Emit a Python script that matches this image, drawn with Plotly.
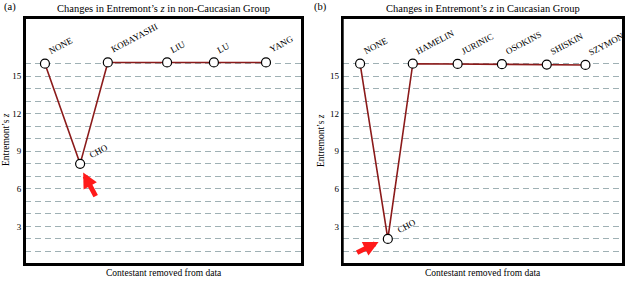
import plotly.graph_objects as go

# ---- data ----
names_a = ["NONE", "CHO", "KOBAYASHI", "LIU", "LU", "YANG"]
pos_a = [7.2, 19.9, 29.9, 51.3, 68.2, 87.0]
z_a = [16.0, 8.0, 16.1, 16.1, 16.1, 16.1]

names_b = ["NONE", "CHO", "HAMELIN", "JURINIC", "OSOKINS", "SHISKIN", "SZYMON"]
pos_b = [6.2, 16.1, 25.0, 41.0, 56.8, 72.8, 86.6]
z_b = [16.0, 2.0, 16.0, 15.98, 15.96, 15.93, 15.9]

grid_vals = list(range(1, 17))
tick_labels = [str(v) if v % 3 == 0 else "" for v in grid_vals]

title_a = "Changes in Entremont\u2019s <i>z</i> in non-Caucasian Group"
title_b = "Changes in Entremont\u2019s <i>z</i> in Caucasian Group"
xlab = "Contestant removed from data"
ylab = "Entremont\u2019s <i>z</i>"

FONT = "Liberation Serif, Times New Roman, serif"
LINE = "#8b1a1a"
GRID = "#9fb0b4"

W, H = 625, 294
dom_a = [25 / W, 302 / W]
dom_b = [342.7 / W, 623 / W]
ydom = [(H - 264) / H, (H - 18) / H]

fig = go.Figure()
for names, xs, zs, xa, ya in [(names_a, pos_a, z_a, "x", "y"), (names_b, pos_b, z_b, "x2", "y2")]:
    fig.add_trace(go.Scatter(
        x=xs, y=zs, mode="lines+markers", xaxis=xa, yaxis=ya,
        line=dict(color=LINE, width=1.6),
        marker=dict(symbol="circle", size=9, color="white", line=dict(color="black", width=1.2)),
        hoverinfo="skip", showlegend=False, cliponaxis=False))

axis_common = dict(showline=True, mirror=True, linecolor="black", linewidth=2,
                   zeroline=False, ticks="", automargin=False)
fig.update_layout(
    width=W, height=H, margin=dict(l=0, r=0, t=0, b=0, pad=0, autoexpand=False),
    paper_bgcolor="white", plot_bgcolor="white",
    font=dict(family=FONT, color="black", size=9),
    xaxis=dict(domain=dom_a, range=[0, 100], showgrid=False, showticklabels=False, anchor="y", **axis_common),
    xaxis2=dict(domain=dom_b, range=[0, 100], showgrid=False, showticklabels=False, anchor="y2", **axis_common),
    yaxis=dict(domain=ydom, range=[0, 19.65], tickvals=grid_vals, ticktext=tick_labels,
               showgrid=True, gridcolor=GRID, griddash="6px,4px", gridwidth=1, anchor="x",
               tickfont=dict(size=9), **axis_common),
    yaxis2=dict(domain=ydom, range=[0, 19.65], tickvals=grid_vals, ticktext=tick_labels,
                showgrid=True, gridcolor=GRID, griddash="6px,4px", gridwidth=1, anchor="x2",
                tickfont=dict(size=9), **axis_common),
)

# panel frames
shapes = []
for dom in (dom_a, dom_b):
    shapes.append(dict(type="rect", xref="paper", yref="paper",
                       x0=dom[0], x1=dom[1], y0=ydom[0], y1=ydom[1],
                       line=dict(color="black", width=2), fillcolor="rgba(0,0,0,0)", layer="above"))
fig.update_layout(shapes=shapes)

ann = []
# point labels
for names, xs, zs, xa, ya in [(names_a, pos_a, z_a, "x", "y"), (names_b, pos_b, z_b, "x2", "y2")]:
    for n, xv, zv in zip(names, xs, zs):
        if n == "CHO":
            ann.append(dict(x=xv, y=zv, xref=xa, yref=ya, text=n, showarrow=False,
                            textangle=-28, xanchor="left", yanchor="bottom",
                            xshift=5, yshift=1, font=dict(size=9)))
        else:
            ann.append(dict(x=xv, y=zv, xref=xa, yref=ya, text=n, showarrow=False,
                            textangle=-28, xanchor="left", yanchor="bottom",
                            xshift=-1, yshift=5, font=dict(size=9)))

# titles and axis labels
cx_a = (dom_a[0] + dom_a[1]) / 2
cx_b = (dom_b[0] + dom_b[1]) / 2
ann += [
    dict(x=cx_a, y=1 - 8 / H, xref="paper", yref="paper", text=title_a, showarrow=False,
         xanchor="center", yanchor="middle", font=dict(size=10.5)),
    dict(x=cx_b, y=1 - 8 / H, xref="paper", yref="paper", text=title_b, showarrow=False,
         xanchor="center", yanchor="middle", font=dict(size=10.5)),
    dict(x=2 / W, y=1 - 7 / H, xref="paper", yref="paper", text="(a)", showarrow=False,
         xanchor="left", yanchor="middle", font=dict(size=10.5)),
    dict(x=312 / W, y=1 - 7 / H, xref="paper", yref="paper", text="(b)", showarrow=False,
         xanchor="left", yanchor="middle", font=dict(size=10.5)),
    dict(x=cx_a, y=1 - 273 / H, xref="paper", yref="paper", text=xlab, showarrow=False,
         xanchor="center", yanchor="middle", font=dict(size=9.5)),
    dict(x=cx_b, y=1 - 273 / H, xref="paper", yref="paper", text=xlab, showarrow=False,
         xanchor="center", yanchor="middle", font=dict(size=9.5)),
    dict(x=6 / W, y=1 - 140 / H, xref="paper", yref="paper", text=ylab, showarrow=False,
         textangle=-90, xanchor="center", yanchor="middle", font=dict(size=9.5)),
    dict(x=321 / W, y=1 - 140 / H, xref="paper", yref="paper", text=ylab, showarrow=False,
         textangle=-90, xanchor="center", yanchor="middle", font=dict(size=9.5)),
    # red arrows
    dict(x=21.0, y=7.3, ax=25.8, ay=5.3, xref="x", yref="y", axref="x", ayref="y",
         text="", showarrow=True, arrowhead=2, arrowsize=0.6, arrowwidth=5, arrowcolor="#ff1a1a"),
    dict(x=12.8, y=1.75, ax=4.6, ay=0.85, xref="x2", yref="y2", axref="x2", ayref="y2",
         text="", showarrow=True, arrowhead=2, arrowsize=0.6, arrowwidth=5, arrowcolor="#ff1a1a"),
]
fig.update_layout(annotations=ann)

fig.write_html("out.html", config={"displayModeBar": False},
               post_script="document.body.style.margin='0';document.body.style.overflow='hidden';")
